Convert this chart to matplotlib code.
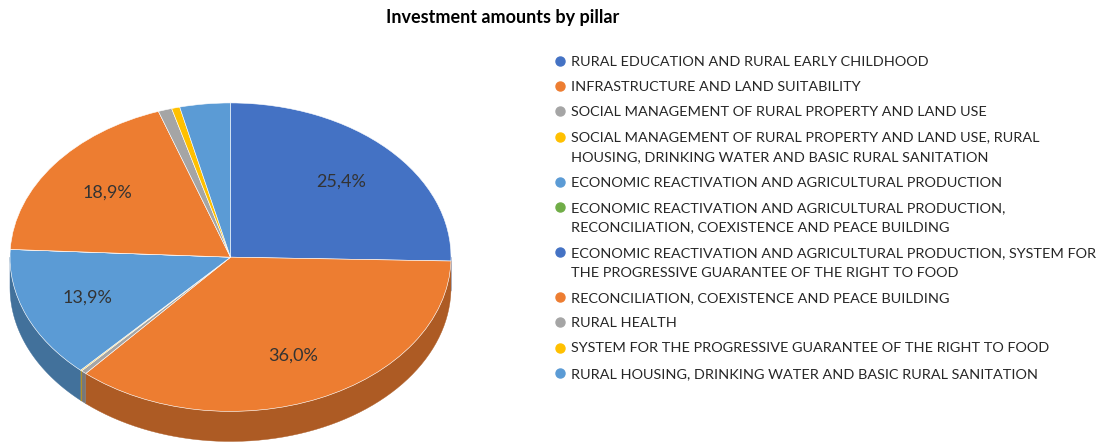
import numpy as np
import matplotlib.pyplot as plt
from matplotlib.colors import to_rgb
from matplotlib.lines import Line2D
from matplotlib.patches import Polygon

plt.rcParams['font.family'] = ['Lato', 'DejaVu Sans']

# investment share per pillar (%), clockwise from 12 o'clock
pillars = [
    'RURAL EDUCATION AND RURAL EARLY CHILDHOOD',
    'INFRASTRUCTURE AND LAND SUITABILITY',
    'SOCIAL MANAGEMENT OF RURAL PROPERTY AND LAND USE',
    'SOCIAL MANAGEMENT OF RURAL PROPERTY AND LAND USE, RURAL\nHOUSING, DRINKING WATER AND BASIC RURAL SANITATION',
    'ECONOMIC REACTIVATION AND AGRICULTURAL PRODUCTION',
    'ECONOMIC REACTIVATION AND AGRICULTURAL PRODUCTION,\nRECONCILIATION, COEXISTENCE AND PEACE BUILDING',
    'ECONOMIC REACTIVATION AND AGRICULTURAL PRODUCTION, SYSTEM FOR\nTHE PROGRESSIVE GUARANTEE OF THE RIGHT TO FOOD',
    'RECONCILIATION, COEXISTENCE AND PEACE BUILDING',
    'RURAL HEALTH',
    'SYSTEM FOR THE PROGRESSIVE GUARANTEE OF THE RIGHT TO FOOD',
    'RURAL HOUSING, DRINKING WATER AND BASIC RURAL SANITATION',
]
shares = [25.4, 36.0, 0.4, 0.1, 13.9, 0.0, 0.0, 18.9, 1.0, 0.6, 3.7]
colors = ['#4472C4', '#ED7D31', '#A5A5A5', '#FFC000', '#5B9BD5', '#70AD47',
          '#4472C4', '#ED7D31', '#A5A5A5', '#FFC000', '#5B9BD5']

W, H = 1105, 443
fig = plt.figure(figsize=(W / 100, H / 100), dpi=100)

depth = 0.195  # thickness of the disc, in y units of the top face
ax = fig.add_axes([8 / W, 0 / H, 445 / W, 341 / H])


def pct(p):
    return ('%.1f%%' % p).replace('.', ',') if p > 5 else ''


wedges, texts, autotexts = ax.pie(shares, colors=colors, startangle=90,
                                  counterclock=False, autopct=pct,
                                  pctdistance=0.70,
                                  wedgeprops=dict(edgecolor='white', linewidth=0.4),
                                  textprops=dict(color='#333333', fontsize=13))
ax.set_aspect('auto')
ax.set_xlim(-1.009, 1.009)
ax.set_ylim(-1 - depth - 0.01, 1.0 + 0.006)

# side wall of the disc for the front half
for w, c in zip(wedges, colors):
    t1, t2 = w.theta1, w.theta2
    if t2 - t1 <= 0:
        continue
    dark = tuple(0.73 * v for v in to_rgb(c))
    for k in (-360, 0, 360):
        a1 = max(t1, 180 + k)
        a2 = min(t2, 360 + k)
        if a2 <= a1:
            continue
        a = np.radians(np.linspace(a1, a2, 60))
        top = np.column_stack([np.cos(a), np.sin(a)])
        bot = np.column_stack([np.cos(a[::-1]), np.sin(a[::-1]) - depth])
        ax.add_patch(Polygon(np.vstack([top, bot]), closed=True, facecolor=dark,
                             edgecolor=dark, linewidth=0.3, zorder=0))

fig.text(503 / W, 1 - 17 / H, 'Investment amounts by pillar', ha='center', va='center',
         fontsize=13, fontweight='bold', color='black')

# legend, drawn item by item so the wrapped labels keep Excel's spacing
line_step = 19.7
item_step = 25.3
y = 60.7
for label, c in zip(pillars, colors):
    lines = label.split('\n')
    fig.add_artist(Line2D([560 / W], [1 - y / H], marker='o', linestyle='none',
                          markersize=6.5, markerfacecolor=c, markeredgecolor=c))
    for i, line in enumerate(lines):
        fig.text(571 / W, 1 - (y + i * line_step) / H, line, ha='left',
                 va='center_baseline', fontsize=10.4, color='#262626')
    y += (len(lines) - 1) * line_step + item_step

fig.savefig('out.png', dpi=100, facecolor='white')
